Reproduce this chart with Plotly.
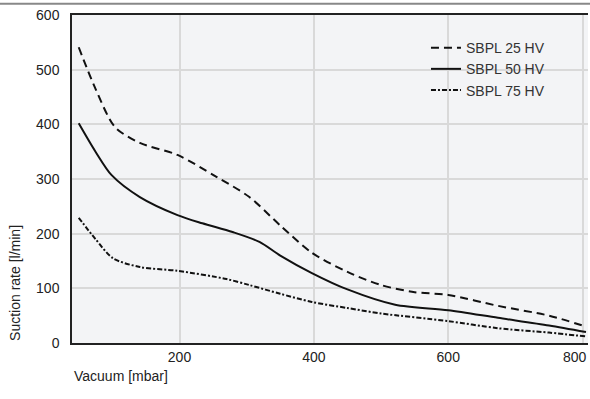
import plotly.graph_objects as go

# ── Suction rate vs vacuum ───────────────────────────────────────────────────
vacuum_25 = [50, 75, 104, 141, 197, 255, 304, 350, 397, 450, 500, 550, 600, 674, 750, 805]
rate_25 = [541, 465, 395, 366, 344, 304, 267, 215, 165, 130, 106, 93, 88, 68, 50, 30]

vacuum_50 = [50, 75, 99, 141, 197, 234, 279, 319, 350, 397, 450, 521, 600, 674, 750, 805]
rate_50 = [402, 350, 307, 267, 234, 219, 203, 185, 160, 128, 98, 70, 60, 46, 32, 20]

vacuum_75 = [50, 75, 101, 141, 197, 270, 304, 350, 397, 450, 500, 600, 674, 750, 805]
rate_75 = [229, 190, 155, 139, 132, 117, 106, 90, 75, 64, 54, 40, 27, 19, 12]

series = [
    ("SBPL 25 HV", vacuum_25, rate_25, "8px,5px"),
    ("SBPL 50 HV", vacuum_50, rate_50, "solid"),
    ("SBPL 75 HV", vacuum_75, rate_75, "5px,2px,2px,2px"),
]

x_ticks = [200, 400, 600, 800]
x_labels = ["200", "400", "600", ""]  # 800 is written separately, pulled in from the edge
y_ticks = [0, 100, 200, 300, 400, 500, 600]

FONT = "Liberation Sans, Arial, sans-serif"

fig = go.Figure()

for name, xs, ys, dash in series:
    fig.add_trace(go.Scatter(
        x=xs,
        y=ys,
        name=name,
        mode="lines",
        line=dict(color="#111111", width=2, dash=dash, shape="spline", smoothing=0.8),
    ))

fig.update_layout(
    width=590,
    height=399,
    paper_bgcolor="white",
    plot_bgcolor="#f3f4f6",
    font=dict(family=FONT, size=14, color="#222222"),
    margin=dict(l=72, r=2, t=15, b=56),
    showlegend=True,
    legend=dict(
        x=0.686, y=0.948, xanchor="left", yanchor="top",
        bgcolor="rgba(0,0,0,0)",
        font=dict(size=14, color="#333333"),
        itemwidth=30,
        tracegroupgap=0,
    ),
    xaxis=dict(
        range=[40, 808],
        tickvals=x_ticks,
        ticktext=x_labels,
        automargin=False,
        showgrid=True, gridcolor="#d9d9d9", gridwidth=2,
        zeroline=False,
        showline=True, linecolor="#222222", linewidth=1.5, mirror=True,
        ticks="",
    ),
    yaxis=dict(
        range=[0, 600],
        tickvals=y_ticks,
        automargin=False,
        showgrid=True, gridcolor="#d9d9d9", gridwidth=2,
        zeroline=False,
        showline=True, linecolor="#222222", linewidth=1.5,
        ticks="", ticklabelstandoff=8,
    ),
    annotations=[
        dict(text="800", xref="x", yref="paper", x=x_ticks[-1], y=0,
             xanchor="center", yanchor="top", xshift=-8, yshift=-4,
             showarrow=False, font=dict(size=14, color="#222222")),
        dict(text="Vacuum [mbar]", xref="paper", yref="paper", x=0, y=-0.07,
             xanchor="left", yanchor="top", showarrow=False,
             font=dict(size=14, color="#222222")),
        dict(text="Suction rate [l/min]", xref="paper", yref="paper", x=-0.13, y=0,
             xanchor="left", yanchor="bottom", textangle=-90, showarrow=False,
             font=dict(size=14, color="#222222")),
    ],
    shapes=[
        # thin separator line across the top of the page
        dict(type="line", xref="paper", yref="paper", x0=-0.14, x1=1.004,
             y0=1.034, y1=1.034, layer="above",
             line=dict(color="#888888", width=2)),
    ],
)

# page body has a default 8px margin; drop it so the figure fills the window
fig.write_html("out.html", config={"displayModeBar": False},
               post_script="document.body.style.margin='0';")
